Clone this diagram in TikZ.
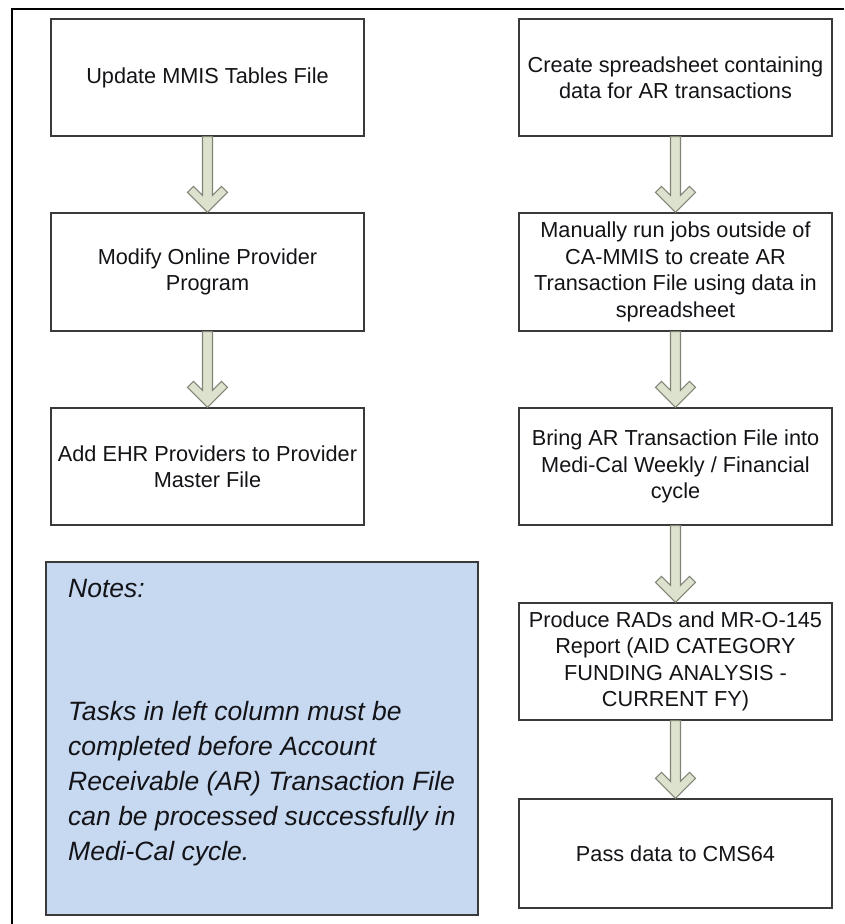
\documentclass[tikz,border=0pt]{standalone}
\usepackage{fontspec}
\setmainfont{Liberation Sans}
\usetikzlibrary{calc}
\definecolor{boxline}{RGB}{58,58,58}
\definecolor{arrfill}{RGB}{221,226,206}
\definecolor{arrline}{RGB}{128,132,118}
\definecolor{notefill}{RGB}{198,217,241}
\definecolor{txt}{RGB}{20,20,24}
\tikzset{
  stepbox/.style={draw=boxline, line width=1.3pt, fill=white, inner sep=0pt,
    minimum width=313pt, align=center, text=txt,
    font=\fontsize{21.7}{26.5}\selectfont},
  notebox/.style={draw=boxline, line width=1.3pt, fill=notefill, inner sep=0pt,
    minimum width=432pt, minimum height=353pt},
  notetext/.style={inner sep=0pt, text=txt,
    font=\fontsize{26.5}{35}\selectfont\itshape},
  fatarrow/.style={draw=arrline, fill=arrfill, line width=1.1pt, line join=miter}
}
\newcommand{\fatarr}[2]{%
  \draw[fatarrow] let \p1=(#1.south), \p2=(#2.north) in
    (\x1-5pt,\y1) -- (\x1-5pt,\y2+17pt) -- (\x1-14pt,\y2+26pt) -- (\x1-20pt,\y2+20pt)
    -- (\x1,\y2) -- (\x1+20pt,\y2+20pt) -- (\x1+14pt,\y2+26pt) -- (\x1+5pt,\y2+17pt)
    -- (\x1+5pt,\y1) -- cycle;}
\begin{document}
\begin{tikzpicture}[x=1pt,y=-1pt]
\useasboundingbox (0,0) rectangle (844,924);
% frame (top and left edges visible)
\coordinate (fa) at (844,9);
\coordinate (fb) at (12,9);
\coordinate (fc) at (12,924);
\draw[line width=2.5pt, black] (fa) -- (fb) -- (fc);
% left column
\node[stepbox, minimum height=117pt] (l1) at (207.5,77.5) {Update MMIS Tables File};
\node[stepbox, minimum height=118pt] (l2) at (207.5,272) {Modify Online Provider\\Program};
\node[stepbox, minimum height=117pt] (l3) at (207.5,466.5) {Add EHR Providers to Provider\\Master File};
% right column
\node[stepbox, minimum height=117pt] (r1) at (675.5,77.5) {Create spreadsheet containing\\data for AR transactions};
\node[stepbox, minimum height=118pt] (r2) at (675.5,272) {Manually run jobs outside of\\CA-MMIS to create AR\\Transaction File using data in\\spreadsheet};
\node[stepbox, minimum height=117pt] (r3) at (675.5,466.5) {Bring AR Transaction File into\\Medi-Cal Weekly / Financial\\cycle};
\node[stepbox, minimum height=117pt] (r4) at (675.5,661.5) {Produce RADs and MR-O-145\\Report (AID CATEGORY\\FUNDING ANALYSIS -\\CURRENT FY)};
\node[stepbox, minimum height=109pt] (r5) at (675.5,853.5) {Pass data to CMS64};
% arrows
\fatarr{l1}{l2}
\fatarr{l2}{l3}
\fatarr{r1}{r2}
\fatarr{r2}{r3}
\fatarr{r3}{r4}
\fatarr{r4}{r5}
% notes
\node[notebox] (notes) at (262,738.5) {};
\node[notetext, anchor=base west] (notestitle) at (68,597) {Notes:};
\node[notetext, anchor=base west] (notesbody) at (68,720) {\begin{tabular}[t]{@{}l@{}}Tasks in left column must be\\completed before Account\\Receivable (AR) Transaction File\\can be processed successfully in\\Medi-Cal cycle.\end{tabular}};
\end{tikzpicture}
\end{document}
